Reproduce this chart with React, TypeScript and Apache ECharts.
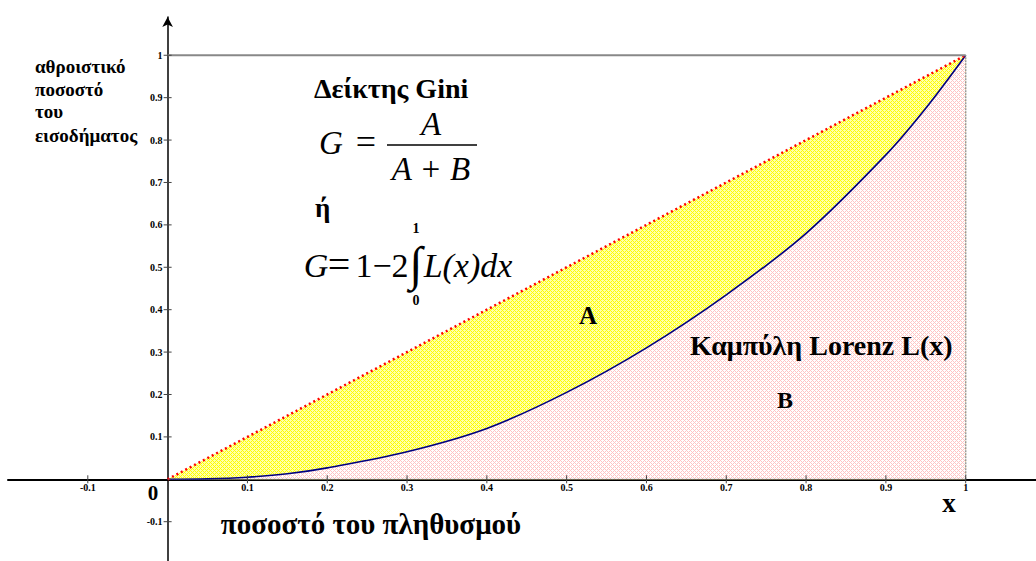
import React, { useEffect, useRef } from "react";
import * as echarts from "echarts";

// Tick positions on both axes
const xTickValues = [-0.1, 0.1, 0.2, 0.3, 0.4, 0.5, 0.6, 0.7, 0.8, 0.9, 1];
const yTickValues = [-0.1, 0.1, 0.2, 0.3, 0.4, 0.5, 0.6, 0.7, 0.8, 0.9, 1];

// Lorenz curve: cumulative population share vs cumulative income share
const populationShare = [0, 0.05, 0.1, 0.15, 0.2, 0.3, 0.4, 0.5, 0.6, 0.7, 0.8, 0.9, 0.95, 1];
const incomeShare = [0, 0.001, 0.005, 0.013, 0.027, 0.065, 0.12, 0.205, 0.31, 0.435, 0.58, 0.765, 0.875, 1];

// Line of perfect equality
const equalityX = [0, 1];
const equalityY = [0, 1];

// Frame of the unit square (top edge and right edge)
const topEdgeX = [0, 1];
const topEdgeY = [1, 1];
const rightEdgeX = [1, 1];
const rightEdgeY = [0, 1];

const SERIF = "'Liberation Serif', 'DejaVu Serif', serif";

function hatch(line: string, hole: string) {
  const c = document.createElement("canvas");
  c.width = 4;
  c.height = 4;
  const ctx = c.getContext("2d")!;
  ctx.fillStyle = hole;
  ctx.fillRect(0, 0, 4, 4);
  ctx.fillStyle = line;
  for (let i = 0; i < 4; i++) {
    for (let j = 0; j < 4; j++) {
      if ((i + j) % 4 === 0 || (i - j + 4) % 4 === 0) ctx.fillRect(i, j, 1, 1);
    }
  }
  return { image: c, repeat: "repeat", imageWidth: 4, imageHeight: 4 } as any;
}

function fmtTick(v: number) {
  return String(Math.round(v * 10) / 10);
}

function txt(text: string, x: number, y: number, font: string, align = "left") {
  return {
    type: "text",
    x,
    y,
    silent: true,
    z: 20,
    style: {
      text,
      font,
      fill: "#000",
      align,
      textAlign: align,
      verticalAlign: "middle",
      textVerticalAlign: "middle",
    },
  };
}

function pairs(xs: number[], ys: number[]) {
  return xs.map((x, i) => [x, ys[i]]);
}

export default function App() {
  const ref = useRef<HTMLDivElement>(null);

  useEffect(() => {
    if (!ref.current) return;
    const chart = echarts.init(ref.current, undefined, { renderer: "svg" });

    const bold = (s: number) => `bold ${s}px ${SERIF}`;
    const ital = (s: number) => `italic ${s}px ${SERIF}`;
    const norm = (s: number) => `${s}px ${SERIF}`;
    const tickFont = bold(10);

    // small tick crossing the axis plus its label
    const tickRender = (onXAxis: boolean) => (params: any, api: any) => {
      const v = onXAxis ? api.value(0) : api.value(1);
      const p = api.coord([api.value(0), api.value(1)]);
      const shape = onXAxis
        ? { x1: p[0], y1: p[1] - 4, x2: p[0], y2: p[1] + 4 }
        : { x1: p[0] - 4, y1: p[1], x2: p[0] + 4, y2: p[1] };
      const label = onXAxis
        ? { x: p[0], y: p[1] + 8.5, align: "center", verticalAlign: "middle" }
        : { x: p[0] - 5, y: p[1], align: "right", verticalAlign: "middle" };
      return {
        type: "group",
        children: [
          { type: "line", shape, style: { stroke: "#444", lineWidth: 1 } },
          {
            type: "text",
            x: label.x,
            y: label.y,
            style: {
              text: fmtTick(v),
              font: tickFont,
              fill: "#000",
              align: label.align,
              textAlign: label.align,
              verticalAlign: label.verticalAlign,
              textVerticalAlign: label.verticalAlign,
            },
          },
        ],
      };
    };

    chart.setOption({
      animation: false,
      backgroundColor: "#fff",
      grid: { left: 8, right: 0, top: 17.1, bottom: -3.1, outerBoundsMode: "none" },
      xAxis: {
        type: "value",
        min: -0.2,
        max: 1.0881,
        interval: 0.1,
        axisLine: { onZero: true, lineStyle: { color: "#000", width: 2 } },
        axisTick: { show: false },
        splitLine: { show: false },
        axisLabel: { show: false },
      },
      yAxis: {
        type: "value",
        min: -0.2,
        max: 1.09,
        interval: 0.1,
        axisLine: {
          onZero: true,
          symbol: ["none", "arrow"],
          symbolSize: [8, 10],
          lineStyle: { color: "#000", width: 1.5 },
        },
        axisTick: { show: false },
        splitLine: { show: false },
        axisLabel: { show: false },
      },
      series: [
        {
          name: "equality",
          type: "line",
          data: pairs(equalityX, equalityY),
          symbol: "none",
          lineStyle: { width: 0 },
          areaStyle: { color: hatch("#ffff00", "#ffffa8"), opacity: 1 },
          z: 2,
        },
        {
          name: "lorenz",
          type: "line",
          data: pairs(populationShare, incomeShare),
          smooth: 0.35,
          symbol: "none",
          lineStyle: { color: "#000080", width: 1.6 },
          areaStyle: { color: hatch("#ffc4c4", "#ffffff"), opacity: 1 },
          z: 3,
        },
        {
          name: "equalityLine",
          type: "line",
          data: pairs(equalityX, equalityY),
          symbol: "none",
          lineStyle: { color: "#ff0000", width: 2.5, type: [2, 3] },
          z: 4,
        },
        {
          name: "top",
          type: "line",
          data: pairs(topEdgeX, topEdgeY),
          symbol: "none",
          lineStyle: { color: "#888", width: 2 },
          z: 4,
        },
        {
          name: "right",
          type: "line",
          data: pairs(rightEdgeX, rightEdgeY),
          symbol: "none",
          lineStyle: { color: "#999", width: 1.5, type: [2, 1] },
          z: 4,
        },
        {
          name: "base",
          type: "line",
          data: pairs(topEdgeX, [0, 0]),
          symbol: "none",
          lineStyle: { color: "#666", width: 1, type: [1, 1] },
          z: 5,
        },
        {
          name: "xTicks",
          type: "custom",
          data: xTickValues.map((v) => [v, 0]),
          renderItem: tickRender(true),
          silent: true,
          z: 6,
        },
        {
          name: "yTicks",
          type: "custom",
          data: yTickValues.map((v) => [0, v]),
          renderItem: tickRender(false),
          silent: true,
          z: 6,
        },
      ],
      graphic: [
        txt("αθροιστικό", 35, 66, bold(19)),
        txt("ποσοστό", 35, 89, bold(19)),
        txt("του", 35, 111.5, bold(19)),
        txt("εισοδήματος", 35, 135, bold(19)),
        txt("Δείκτης Gini", 314, 88, bold(28)),
        txt("G", 331, 143, ital(33), "center"),
        txt("=", 366, 142, norm(36), "center"),
        txt("A", 431, 124, ital(33), "center"),
        {
          type: "line",
          silent: true,
          z: 20,
          shape: { x1: 387, y1: 145, x2: 477, y2: 145 },
          style: { stroke: "#000", lineWidth: 1.5 },
        },
        txt("A + B", 431, 169, ital(33), "center"),
        txt("ή", 315, 208, bold(27)),
        txt("G", 316, 265, ital(34), "center"),
        txt("=", 339, 264, norm(40), "center"),
        txt("1−2", 382, 265, norm(34), "center"),
        txt("∫", 416, 263, norm(48), "center"),
        txt("1", 416, 228, bold(14), "center"),
        txt("0", 416, 300, bold(14), "center"),
        txt("L(x)dx", 468, 265, ital(34), "center"),
        txt("A", 588, 315, bold(25), "center"),
        txt("Καμπύλη Lorenz L(x)", 690, 345, bold(28)),
        txt("B", 785, 400, bold(24), "center"),
        txt("0", 153, 493, bold(21), "center"),
        txt("x", 949, 503, bold(27), "center"),
        txt("ποσοστό του πληθυσμού", 371, 524, bold(29), "center"),
      ],
    });

    return () => chart.dispose();
  }, []);

  return (
    <div
      ref={ref}
      style={{ position: "absolute", left: 0, top: 0, width: 1036, height: 561, background: "#fff" }}
    />
  );
}
